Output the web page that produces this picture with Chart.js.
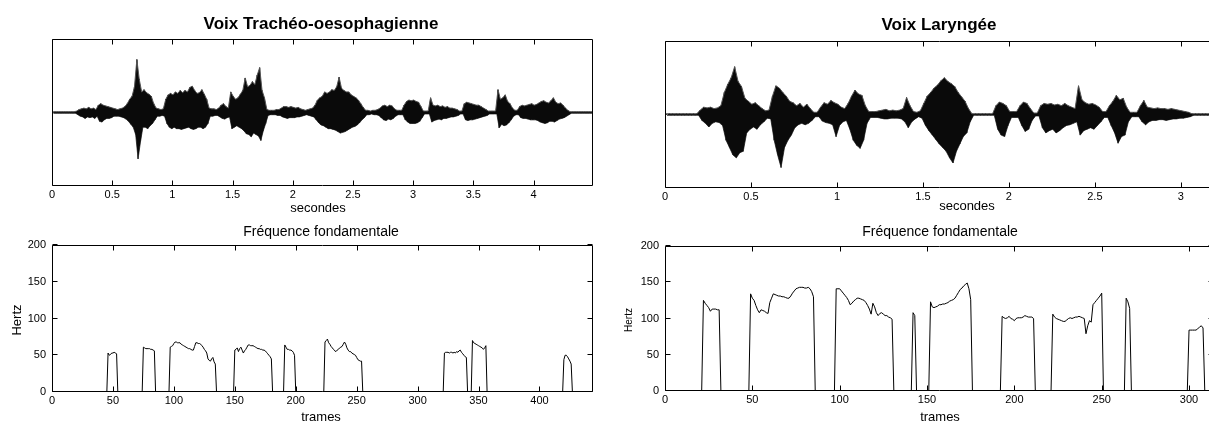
<!DOCTYPE html>
<html><head><meta charset="utf-8">
<script src="https://cdn.jsdelivr.net/npm/chart.js@4.4.1/dist/chart.umd.min.js"></script>
<style>
html,body{margin:0;padding:0;background:#fff;overflow:hidden;width:1209px;height:423px;}
canvas{position:absolute;}
</style></head><body>
<canvas id="wfL" width="600" height="222" style="left:0;top:0"></canvas>
<canvas id="f0L" width="600" height="201" style="left:0;top:222px"></canvas>
<canvas id="wfR" width="640" height="222" style="left:600px;top:0"></canvas>
<canvas id="f0R" width="640" height="201" style="left:600px;top:222px"></canvas>
<script>
// ---------- DATA ----------
// Waveform envelopes, one value per 0.02 s bin (amplitude, full scale = 1)
const WF_BIN = 0.02;
const wfLeftUp = [
0.01,0.01,0.01,0.01,0.01,0.01,0.01,0.01,0.01,0.01,
0.02,0.04,0.05,0.06,0.05,0.07,0.05,0.06,0.04,
0.10,0.12,0.10,0.09,0.08,0.07,0.06,
0.05,0.04,0.05,0.06,0.08,
0.12,0.18,0.22,
0.35,0.72,0.45,
0.28,0.31,0.27,0.25,0.22,
0.12,
0.06,0.05,0.04,0.05,
0.18,0.24,0.26,0.24,0.28,0.26,0.30,0.27,0.30,0.28,0.34,0.36,0.30,0.26,0.27,0.31,0.25,0.18,
0.06,0.05,0.05,0.04,0.06,0.10,0.12,0.08,0.06,
0.28,0.22,0.18,0.20,0.25,0.30,0.47,0.35,0.37,0.42,0.38,0.51,0.61,0.30,0.20,
0.04,0.03,0.03,0.03,0.04,0.04,
0.06,0.08,0.08,0.07,0.08,0.07,0.06,0.07,0.05,0.04,
0.03,0.04,0.05,0.06,
0.10,0.17,0.20,0.22,0.28,0.26,0.28,0.31,0.30,0.35,0.48,0.33,0.30,0.28,0.28,0.24,0.22,0.20,0.17,0.12,0.07,
0.03,0.03,0.02,0.03,0.03,0.04,
0.06,0.09,0.10,0.08,0.10,0.09,0.05,
0.03,0.03,0.03,
0.10,0.15,0.17,0.16,0.17,0.15,0.14,0.08,
0.02,0.02,0.02,
0.20,0.10,0.09,0.10,0.08,0.09,0.07,0.08,0.06,0.06,0.05,0.04,
0.02,0.02,
0.12,0.14,0.13,0.12,0.11,0.10,0.10,0.08,0.06,0.04,
0.02,0.02,0.02,0.02,
0.31,0.18,0.20,0.24,0.15,0.12,0.06,
0.03,0.03,
0.08,0.10,0.09,0.10,0.11,0.12,0.10,0.11,0.13,0.15,0.16,0.14,0.13,0.16,0.20,0.14,0.12,0.13,0.10,0.06,0.03,
0.01,0.01,0.01,0.01,0.01,0.01,0.01,0.01,0.01,0.01];
const wfLeftDown = [
0.01,0.01,0.01,0.01,0.01,0.01,0.01,0.01,0.01,0.01,
0.03,0.05,0.06,0.08,0.06,0.07,0.06,0.08,0.05,
0.12,0.13,0.10,0.08,0.08,0.07,0.05,
0.05,0.05,0.06,0.07,0.09,
0.12,0.16,0.20,
0.30,0.63,0.40,
0.20,0.20,0.22,0.18,0.15,
0.10,
0.05,0.05,0.04,0.05,
0.15,0.20,0.22,0.20,0.22,0.22,0.23,0.22,0.21,0.20,0.22,0.23,0.22,0.20,0.20,0.22,0.20,0.15,
0.05,0.05,0.04,0.04,0.06,0.08,0.09,0.07,0.06,
0.22,0.20,0.18,0.20,0.22,0.25,0.29,0.30,0.33,0.28,0.30,0.32,0.38,0.25,0.15,
0.04,0.03,0.03,0.03,0.04,0.04,
0.06,0.07,0.08,0.07,0.07,0.07,0.06,0.06,0.05,0.04,
0.03,0.04,0.05,0.06,
0.10,0.14,0.17,0.18,0.20,0.22,0.22,0.23,0.24,0.26,0.28,0.27,0.26,0.24,0.22,0.20,0.19,0.17,0.14,0.10,0.07,
0.03,0.03,0.02,0.03,0.03,0.04,
0.07,0.10,0.11,0.09,0.10,0.08,0.05,
0.03,0.03,0.03,
0.10,0.13,0.15,0.15,0.15,0.14,0.12,0.07,
0.02,0.02,0.02,
0.13,0.11,0.10,0.09,0.10,0.08,0.08,0.07,0.06,0.06,0.05,0.04,
0.02,0.02,
0.10,0.11,0.10,0.10,0.09,0.08,0.07,0.06,0.05,0.04,
0.02,0.02,0.02,0.02,
0.21,0.16,0.18,0.17,0.14,0.10,0.05,
0.03,0.03,
0.07,0.08,0.08,0.09,0.10,0.10,0.10,0.11,0.13,0.14,0.15,0.14,0.12,0.12,0.13,0.11,0.09,0.08,0.07,0.05,0.03,
0.01,0.01,0.01,0.01,0.01,0.01,0.01,0.01,0.01,0.01];
const wfRightUp = [
0.01,0.01,0.01,0.01,0.01,0.01,0.01,0.01,0.01,0.01,
0.06,0.10,0.09,0.10,0.08,0.09,0.12,
0.30,0.41,0.50,0.65,0.45,0.38,0.22,
0.18,0.14,0.16,0.12,0.08,
0.05,0.06,
0.25,0.39,0.36,0.30,0.25,0.18,0.16,
0.12,0.15,0.10,0.14,0.08,
0.03,0.03,
0.10,0.16,0.14,0.19,0.16,0.14,0.10,0.08,
0.15,0.25,0.33,0.28,0.26,0.12,
0.04,0.04,0.04,
0.05,0.06,0.07,0.05,0.06,0.05,0.06,0.08,
0.23,0.12,
0.04,0.03,0.05,
0.15,0.25,0.30,0.36,0.40,0.46,0.50,0.45,0.42,0.38,0.30,0.24,0.18,0.08,
0.01,0.01,0.01,0.01,0.01,0.01,0.01,
0.12,0.17,0.15,0.12,
0.04,0.04,0.04,
0.12,0.17,0.15,0.08,
0.02,0.02,
0.12,0.15,0.14,0.15,0.13,0.14,0.12,0.15,0.12,0.10,0.08,
0.39,0.20,0.16,0.14,0.15,0.13,0.10,
0.04,0.04,
0.12,0.18,0.26,0.20,0.22,0.10,
0.03,0.03,0.03,
0.12,0.19,0.10,0.09,0.08,0.09,0.08,0.08,0.07,0.08,0.07,0.06,0.05,0.04,0.03,
0.01,0.01,0.01,0.01,0.01,0.01];
const wfRightDown = [
0.01,0.01,0.01,0.01,0.01,0.01,0.01,0.01,0.01,0.01,
0.08,0.12,0.17,0.12,0.10,0.11,0.15,
0.35,0.45,0.55,0.59,0.52,0.50,0.25,
0.20,0.17,0.20,0.14,0.10,
0.05,0.06,
0.35,0.55,0.72,0.45,0.35,0.28,0.18,
0.14,0.12,0.14,0.12,0.08,
0.03,0.03,
0.09,0.11,0.12,0.14,0.30,0.15,0.10,0.08,
0.20,0.35,0.42,0.46,0.35,0.12,
0.04,0.04,0.04,
0.05,0.06,0.06,0.05,0.05,0.05,0.06,0.10,
0.18,0.10,
0.06,0.03,0.05,
0.15,0.22,0.28,0.34,0.40,0.45,0.50,0.59,0.66,0.50,0.40,0.30,0.25,0.10,
0.01,0.01,0.01,0.01,0.01,0.01,0.01,
0.20,0.28,0.30,0.15,
0.04,0.04,0.04,
0.15,0.23,0.20,0.08,
0.02,0.02,
0.18,0.25,0.22,0.20,0.25,0.22,0.18,0.15,0.14,0.12,0.10,
0.28,0.22,0.20,0.18,0.20,0.15,0.10,
0.04,0.04,
0.15,0.25,0.39,0.30,0.28,0.10,
0.03,0.03,0.03,
0.10,0.14,0.10,0.08,0.08,0.07,0.07,0.08,0.07,0.06,0.06,0.05,0.05,0.04,0.03,
0.01,0.01,0.01,0.01,0.01,0.01];

// Fundamental frequency (Hz): voiced segments, first frame + per-frame values; 0 Hz elsewhere
const f0LeftFrames = 443.5;
const f0LeftStarts = [46, 75, 97, 150, 191, 224, 322, 345, 420];
const f0LeftSegs = [
[53,50,51,53,53,54,53,52],
[61,60,59,59,59,59,58,58,57,56],
[61,62,63,66,68,68,67,67,67,65,64,63,62,61,60,59,59,58,57,57,62,67,67,66,66,65,63,61,58,56,53,45,43,42,45,47,41,38],
[57,58,60,55,59,61,57,53,56,58,61,64,64,63,63,63,62,61,60,59,59,58,58,57,57,56,54,52,50,48,45],
[64,61,58,58,57,57,56,54,50],
[68,70,72,67,65,62,60,58,56,55,57,58,60,61,62,65,68,65,60,57,55,55,53,52,51,50,47,44,43,42,42],
[53,54,54,54,53,54,54,53,54,53,55,54,56,57,54,52,50,48,47],
[70,67,66,65,64,63,62,61,60,58,60,63],
[44,50,50,48,45,42,38]];
const f0RightFrames = 314;
const f0RightStarts = [22, 49, 98, 142, 152, 193, 222, 264, 300];
const f0RightSegs = [
[125,121,118,115,110,113,113,113,112,112],
[134,128,125,118,112,108,112,111,110,108,107,122,128,134,133,132,131,131,130,130,129,128,128,131,135,138,141,142,143,143,143,142,142,143,141,137,130],
[141,141,141,138,135,132,129,125,119,121,124,126,128,128,127,126,125,122,118,113,106,121,116,108,104,107,108,106,104,104,102,101,99],
[108,104],
[123,116,115,116,117,119,119,120,120,121,122,124,125,126,128,132,136,140,142,145,147,149,141,126],
[103,101,100,101,103,100,99,97,100,101,101,101,102,104,103,102,102,102,100],
[106,102,100,99,98,97,96,96,98,100,101,100,101,102,102,103,102,101,100,79,90,97,95,119,122,125,128,131,135],
[128,123,114],
[84,84,84,84,84,86,88,90,87]];

const wfLeftMax = 4.49, wfRightMax = 3.19;
const timeTickStep = 0.5, frameTickStep = 50, hzTickStep = 50, hzMax = 200;

const titles = {
  left: 'Voix Trachéo-oesophagienne', right: 'Voix Laryngée',
  f0: 'Fréquence fondamentale', time: 'secondes', frames: 'trames', hz: 'Hertz'
};

// ---------- BUILD ----------
function envSeries(vals, bin, sign, offset) {
  return vals.map((v, i) => ({x: i * bin + bin * offset, y: sign * v}));
}
function zigSeries(up, down, bin) {
  const pts = [];
  up.forEach((u, i) => {
    pts.push({x: i * bin + bin * 0.25, y: u});
    pts.push({x: i * bin + bin * 0.75, y: -down[i]});
  });
  return pts;
}
function f0Series(starts, segs, nFrames) {
  const vals = [];
  for (let f = 0; f <= Math.ceil(nFrames); f++) vals.push(0);
  segs.forEach((seg, k) => seg.forEach((v, j) => { vals[starts[k] + j] = v; }));
  return vals.map((y, x) => ({x, y}));
}

const FONT = "'Liberation Sans', Arial, Helvetica, sans-serif";
Chart.defaults.font.family = FONT;
Chart.defaults.color = '#000';

const framePlugin = {
  id: 'frame',
  afterDatasetsDraw(chart, args, opts) {
    const {ctx, chartArea: a, scales} = chart;
    ctx.save();
    ctx.strokeStyle = '#000';
    ctx.lineWidth = 1;
    const L = Math.round(a.left) + 0.5, R = Math.round(a.right) - 0.5;
    const T = Math.round(a.top) + 0.5, B = Math.round(a.bottom) - 0.5;
    ctx.beginPath();
    ctx.moveTo(L, T); ctx.lineTo(R, T); ctx.lineTo(R, B); ctx.lineTo(L, B); ctx.closePath();
    const tl = 5;
    scales.x.ticks.forEach(t => {
      const px = Math.round(scales.x.getPixelForValue(t.value)) + 0.5;
      ctx.moveTo(px, T); ctx.lineTo(px, T + tl);
      ctx.moveTo(px, B); ctx.lineTo(px, B - tl);
    });
    if (opts.yTicks) {
      scales.y.ticks.forEach(t => {
        const py = Math.round(scales.y.getPixelForValue(t.value)) - 0.5;
        ctx.moveTo(L, py); ctx.lineTo(L + tl, py);
        ctx.moveTo(R, py); ctx.lineTo(R - tl, py);
      });
    }
    ctx.stroke();
    (opts.texts || []).forEach(t => {
      ctx.font = t.font;
      ctx.fillStyle = t.color || '#000';
      ctx.textAlign = 'center';
      if (t.rotate) {
        ctx.save();
        ctx.translate(t.x, t.y);
        ctx.rotate(-Math.PI / 2);
        ctx.textBaseline = 'middle';
        ctx.fillText(t.text, 0, 0);
        ctx.restore();
      } else {
        ctx.textBaseline = 'alphabetic';
        ctx.fillText(t.text, t.x, t.y);
      }
    });
    ctx.restore();
  }
};

function makeChart(id, c) {
  return new Chart(document.getElementById(id), {
    type: 'line',
    data: {datasets: c.datasets},
    options: {
      responsive: false, animation: false, events: [], parsing: false,
      layout: {padding: c.padding},
      elements: {point: {radius: 0}, line: {tension: 0}},
      plugins: {legend: {display: false}, tooltip: {enabled: false}, title: {display: false},
        filler: {propagate: false},
        frame: {yTicks: c.yTicks, texts: c.texts}},
      scales: {
        x: {type: 'linear', min: 0, max: c.xmax,
          grid: {display: false, drawTicks: false}, border: {display: false},
          ticks: {stepSize: c.xstep, includeBounds: false, autoSkip: false, maxRotation: 0, minRotation: 0,
            padding: 2, font: {size: 11}, color: '#000', callback: v => String(v)},
          afterFit: s => { s.height = c.xHeight; }},
        y: {type: 'linear', min: c.ymin, max: c.ymax, display: c.yDisplay,
          grid: {display: false, drawTicks: false}, border: {display: false},
          ticks: {stepSize: c.ystep, includeBounds: false, autoSkip: false, padding: 6, font: {size: c.yFont || 11}, color: '#000', callback: v => String(v)},
          afterFit: s => { s.width = c.yWidth || 0; }}
      }
    },
    plugins: [framePlugin]
  });
}

function waveDatasets(up, down) {
  return [
    {data: envSeries(up, WF_BIN, 1, 0.25), borderColor: '#555', borderWidth: 1, backgroundColor: '#0a0a0a', fill: '+1'},
    {data: envSeries(down, WF_BIN, -1, 0.75), borderColor: '#555', borderWidth: 1, fill: false},
    {data: zigSeries(up, down, WF_BIN), borderColor: '#000', borderWidth: 1, fill: false}
  ];
}
function f0Datasets(starts, segs, n) {
  return [{data: f0Series(starts, segs, n), borderColor: '#000', borderWidth: 1, fill: false}];
}

makeChart('wfL', {
  datasets: waveDatasets(wfLeftUp, wfLeftDown), xmax: wfLeftMax, xstep: timeTickStep,
  ymin: -1, ymax: 1, ystep: 1, yDisplay: false, yTicks: false,
  padding: {left: 52, top: 39, right: 7.5, bottom: 0}, xHeight: 36,
  texts: [
    {text: titles.left, x: 321, y: 29, font: 'bold 17px ' + FONT},
    {text: titles.time, x: 318, y: 212, font: '13px ' + FONT}
  ]
});
makeChart('f0L', {
  datasets: f0Datasets(f0LeftStarts, f0LeftSegs, f0LeftFrames), xmax: f0LeftFrames, xstep: frameTickStep,
  ymin: 0, ymax: hzMax, ystep: hzTickStep, yDisplay: true, yTicks: true, yWidth: 52,
  padding: {left: 0, top: 23, right: 7.5, bottom: 0}, xHeight: 31,
  texts: [
    {text: titles.f0, x: 321, y: 14, font: '14px ' + FONT},
    {text: titles.frames, x: 321, y: 199, font: '13px ' + FONT},
    {text: titles.hz, x: 17, y: 98, font: '13px ' + FONT, rotate: true}
  ]
});
makeChart('wfR', {
  datasets: waveDatasets(wfRightUp, wfRightDown), xmax: wfRightMax, xstep: timeTickStep,
  ymin: -1, ymax: 1, ystep: 1, yDisplay: false, yTicks: false,
  padding: {left: 65, top: 41, right: 26.5, bottom: 0}, xHeight: 34,
  texts: [
    {text: titles.right, x: 339, y: 30, font: 'bold 17px ' + FONT},
    {text: titles.time, x: 367, y: 210, font: '13px ' + FONT}
  ]
});
makeChart('f0R', {
  datasets: f0Datasets(f0RightStarts, f0RightSegs, f0RightFrames), xmax: f0RightFrames, xstep: frameTickStep,
  ymin: 0, ymax: hzMax, ystep: hzTickStep, yDisplay: true, yTicks: true, yWidth: 65,
  padding: {left: 0, top: 24, right: 26.5, bottom: 0}, xHeight: 32,
  texts: [
    {text: titles.f0, x: 340, y: 14, font: '14px ' + FONT},
    {text: titles.frames, x: 340, y: 199, font: '13px ' + FONT},
    {text: titles.hz, x: 29, y: 98, font: '10px ' + FONT, rotate: true}
  ]
});
</script>
</body></html>
